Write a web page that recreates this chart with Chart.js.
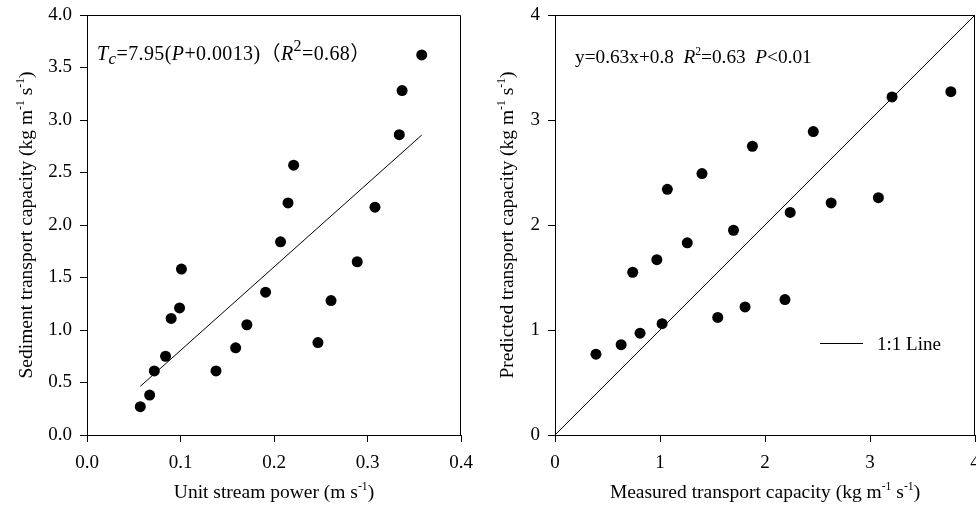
<!DOCTYPE html>
<html>
<head>
<meta charset="utf-8">
<script src="https://cdn.jsdelivr.net/npm/chart.js@4/dist/chart.umd.min.js"></script>
<style>
  html, body { margin: 0; padding: 0; background: #fff; overflow: hidden; width: 976px; height: 508px; }
  .panel { position: absolute; top: 0; height: 508px; }
</style>
</head>
<body>
<div class="panel" style="left:0;width:488px"><canvas id="powerChart" width="488" height="508"></canvas></div>
<div class="panel" style="left:488px;width:500px"><canvas id="predChart" width="500" height="508"></canvas></div>
<script>
// left panel: transport capacity vs unit stream power
const streamPower = [0.057, 0.067, 0.072, 0.084, 0.090, 0.099, 0.101, 0.138, 0.159, 0.171, 0.191,
                     0.207, 0.215, 0.221, 0.247, 0.261, 0.289, 0.308, 0.334, 0.337, 0.358];
const transportCap = [0.27, 0.38, 0.61, 0.75, 1.11, 1.21, 1.58, 0.61, 0.83, 1.05, 1.36,
                      1.84, 2.21, 2.57, 0.88, 1.28, 1.65, 2.17, 2.86, 3.28, 3.62];
const fitRange = [0.057, 0.358];
const fitSlope = 7.95;
const fitShift = 0.0013;

// right panel: predicted vs measured
const measured = [0.39, 0.63, 0.74, 0.81, 0.97, 1.02, 1.07, 1.26, 1.40, 1.55, 1.70,
                  1.81, 1.88, 2.19, 2.24, 2.46, 2.63, 3.08, 3.21, 3.77];
const predicted = [0.77, 0.86, 1.55, 0.97, 1.67, 1.06, 2.34, 1.83, 2.49, 1.12, 1.95,
                   1.22, 2.75, 1.29, 2.12, 2.89, 2.21, 2.26, 3.22, 3.27];
const oneToOne = [0, 4];

const FONT = "'Liberation Serif', 'Times New Roman', 'Noto Sans CJK SC', serif";
const FS = 19;

function drawRich(ctx, parts, x, y, size, align, spacing) {
  const fontOf = p => (p.italic ? 'italic ' : '') + (size * (p.scale || 1)).toFixed(1) + 'px ' + FONT;
  ctx.letterSpacing = (spacing || 0) + 'px';
  let total = 0;
  parts.forEach(p => { ctx.font = fontOf(p); total += ctx.measureText(p.t).width; });
  let cx = align === 'center' ? x - total / 2 : x;
  ctx.textAlign = 'left';
  ctx.textBaseline = 'alphabetic';
  parts.forEach(p => {
    ctx.font = fontOf(p);
    ctx.fillText(p.t, cx, y + (p.dy || 0) * size);
    cx += ctx.measureText(p.t).width;
  });
  ctx.letterSpacing = '0px';
}

const sup = t => ({ t, scale: 0.6, dy: -0.42 });

function axis(min, max, step, digits, pos, size) {
  return {
    type: 'linear', position: pos, min, max,
    ticks: {
      stepSize: step, autoSkip: false, maxRotation: 0, color: '#000',
      padding: pos === 'bottom' ? 10 : 8,
      font: { family: FONT, size: FS },
      callback: v => v.toFixed(digits)
    },
    grid: { drawOnChartArea: false, drawTicks: true, tickLength: 7, color: '#000', lineWidth: 1 },
    border: { display: true, color: '#000', width: 1 },
    afterFit(scale) {
      // fixed axis sizes so both panels line up
      if (pos === 'bottom') { scale.height = size; scale.paddingLeft = 0; scale.paddingRight = 0; }
      else { scale.width = size; scale.paddingTop = 0; scale.paddingBottom = 0; }
    }
  };
}

// frame + titles + annotation text
function decorations(opts) {
  return {
    id: 'decor',
    afterDraw(chart) {
      const { ctx, chartArea: a } = chart;
      ctx.save();
      ctx.strokeStyle = '#000';
      ctx.lineWidth = 1;
      ctx.beginPath();
      ctx.moveTo(Math.round(a.left) + 0.5, Math.round(a.top) + 0.5);
      ctx.lineTo(Math.round(a.right) - 0.5, Math.round(a.top) + 0.5);
      ctx.lineTo(Math.round(a.right) - 0.5, Math.round(a.bottom) + 0.5);
      ctx.stroke();
      ctx.fillStyle = '#000';
      const cx = (a.left + a.right) / 2;
      const cy = (a.top + a.bottom) / 2;
      drawRich(ctx, opts.xTitle, cx, 498, 19.5, 'center');
      ctx.save();
      ctx.translate(opts.yTitleX, cy);
      ctx.rotate(-Math.PI / 2);
      drawRich(ctx, opts.yTitle, 0, 0, 19.5, 'center');
      ctx.restore();
      drawRich(ctx, opts.note, opts.noteX, opts.noteY, opts.noteSize, 'left', opts.noteSpacing);
      if (opts.legend) opts.legend(ctx);
      ctx.restore();
    }
  };
}

const dots = { pointRadius: 5.5, pointHoverRadius: 5.5, backgroundColor: '#000', borderWidth: 0, showLine: false };
const thinLine = { showLine: true, borderColor: '#000', borderWidth: 1, pointRadius: 0, fill: false };

new Chart(document.getElementById('powerChart'), {
  type: 'scatter',
  data: {
    datasets: [
      Object.assign({ data: streamPower.map((x, i) => ({ x, y: transportCap[i] })) }, dots),
      Object.assign({ data: fitRange.map(x => ({ x, y: fitSlope * (x + fitShift) })) }, thinLine)
    ]
  },
  options: {
    responsive: false, animation: false,
    layout: { padding: { left: 0, top: 15, right: 27, bottom: 0 } },
    plugins: { legend: { display: false }, tooltip: { enabled: false } },
    scales: {
      x: axis(0, 0.4, 0.1, 1, 'bottom', 73),
      y: axis(0, 4, 0.5, 1, 'left', 87)
    }
  },
  plugins: [decorations({
    xTitle: [{ t: 'Unit stream power (m s' }, sup('-1'), { t: ')' }],
    yTitle: [{ t: 'Sediment transport capacity (kg m' }, sup('-1'), { t: ' s' }, sup('-1'), { t: ')' }],
    yTitleX: 32,
    note: [{ t: 'T', italic: true }, { t: 'c', italic: true, scale: 0.85, dy: 0.22 }, { t: '=7.95(' },
           { t: 'P', italic: true }, { t: '+0.0013)（' }, { t: 'R', italic: true },
           { t: '2', scale: 0.8, dy: -0.45 }, { t: '=0.68）' }],
    noteX: 97, noteY: 60, noteSize: 20, noteSpacing: 0.4
  })]
});

// canvas runs past the window edge so the last x label is cut like the axis frame
new Chart(document.getElementById('predChart'), {
  type: 'scatter',
  data: {
    datasets: [
      Object.assign({ data: measured.map((x, i) => ({ x, y: predicted[i] })) }, dots),
      Object.assign({ data: oneToOne.map(v => ({ x: v, y: v })) }, thinLine)
    ]
  },
  options: {
    responsive: false, animation: false,
    layout: { padding: { left: 0, top: 15, right: 13, bottom: 0 } },
    plugins: { legend: { display: false }, tooltip: { enabled: false } },
    scales: {
      x: axis(0, 4, 1, 0, 'bottom', 73),
      y: axis(0, 4, 1, 0, 'left', 67)
    }
  },
  plugins: [decorations({
    xTitle: [{ t: 'Measured transport capacity (kg m' }, sup('-1'), { t: ' s' }, sup('-1'), { t: ')' }],
    yTitle: [{ t: 'Predicted transport capacity (kg m' }, sup('-1'), { t: ' s' }, sup('-1'), { t: ')' }],
    yTitleX: 25,
    note: [{ t: 'y=0.63x+0.8  ' }, { t: 'R', italic: true }, sup('2'), { t: '=0.63  ' },
           { t: 'P', italic: true }, { t: '<0.01' }],
    noteX: 87, noteY: 63, noteSize: 19.3,
    legend(ctx) {
      ctx.beginPath();
      ctx.moveTo(332, 343.5);
      ctx.lineTo(375, 343.5);
      ctx.stroke();
      drawRich(ctx, [{ t: '1:1 Line' }], 389, 350, FS, 'left');
    }
  })]
});
</script>
</body>
</html>
